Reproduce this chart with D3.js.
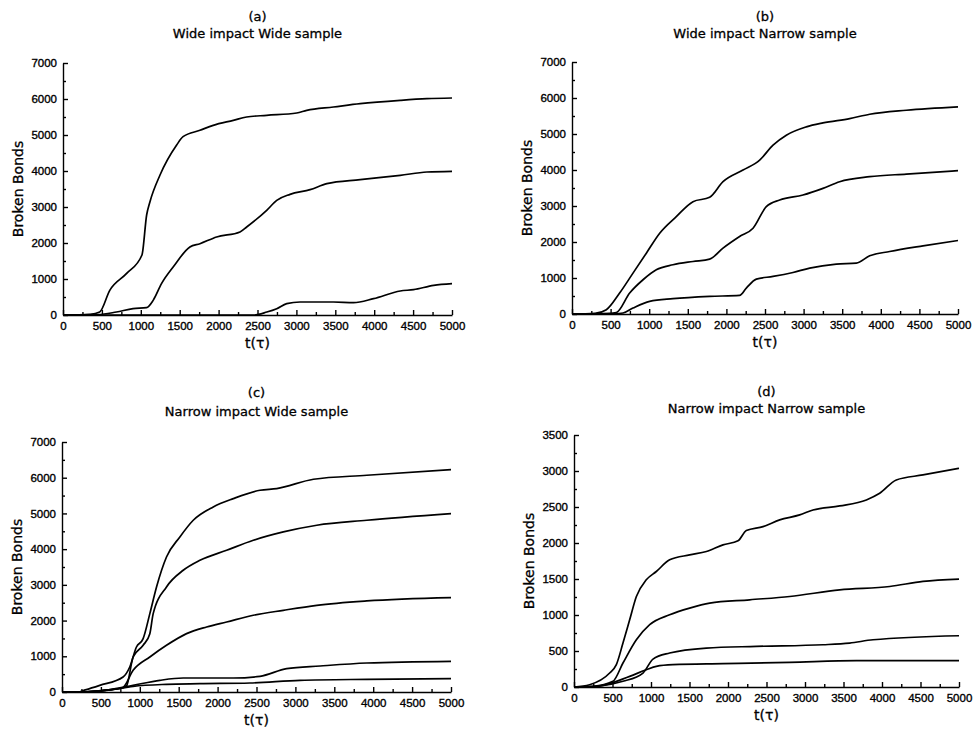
<!DOCTYPE html>
<html>
<head>
<meta charset="utf-8">
<script src="https://cdn.jsdelivr.net/npm/d3@7"></script>
<style>
  body { margin: 0; background: #fff; }
  svg { display: block; font-family: "DejaVu Sans", sans-serif; }
  .axis path, .axis line { stroke: #000; stroke-width: 1.4; }
  .axis text { font-size: 11.5px; fill: #000; stroke: #000; stroke-width: 0.35; }
  .curve { fill: none; stroke: #000; stroke-width: 1.7; stroke-linejoin: round; }
  .title { font-size: 13px; text-anchor: middle; stroke: #000; stroke-width: 0.3; }
  .label { font-size: 14px; text-anchor: middle; stroke: #000; stroke-width: 0.3; }
</style>
</head>
<body>
<svg id="viz" width="978" height="729"></svg>
<script>
// DATA - [t, broken bonds]
const xTicks = [0, 500, 1000, 1500, 2000, 2500, 3000, 3500, 4000, 4500, 5000];
const yTicks7000 = [0, 1000, 2000, 3000, 4000, 5000, 6000, 7000];
const yTicks3500 = [0, 500, 1000, 1500, 2000, 2500, 3000, 3500];

// (a) Wide impact Wide sample
const a1 = [[0,0],[350,20],[472,83],[601,685],[815,1148],[1015,1667],[1075,2778],[1118,3148],[1247,3889],[1461,4722],[1543,4954],[1760,5130],[1931,5268],[2189,5407],[2360,5500],[2618,5546],[3004,5611],[3133,5685],[3476,5777],[3820,5870],[4335,5963],[4678,6009],[5000,6028]];
const a2 = [[0,0],[450,10],[687,83],[901,176],[1073,204],[1159,407],[1266,870],[1416,1333],[1631,1889],[1760,1981],[1974,2167],[2275,2306],[2361,2444],[2618,2907],[2747,3185],[2918,3352],[3176,3481],[3391,3648],[3820,3759],[4335,3880],[4678,3972],[5000,3991]];
const a3 = [[0,0],[2450,0],[2620,83],[2747,176],[2876,315],[3047,361],[3476,361],[3734,343],[3991,454],[4335,667],[4506,704],[4764,824],[5000,870]];

// (b) Wide impact Narrow sample
const b1 = [[0,0],[300,20],[445,120],[617,582],[790,1136],[963,1690],[1136,2244],[1351,2705],[1567,3121],[1783,3241],[1956,3675],[2215,3998],[2431,4275],[2604,4691],[2776,4968],[3035,5199],[3251,5309],[3597,5429],[3856,5549],[4331,5660],[5000,5753]];
const b2 = [[0,0],[450,10],[574,40],[747,582],[920,951],[1092,1228],[1308,1367],[1567,1459],[1783,1524],[1956,1828],[2171,2151],[2345,2382],[2517,2982],[2690,3167],[2992,3306],[3251,3490],[3467,3675],[3856,3814],[4331,3887],[5000,3980]];
const b3 = [[0,0],[550,10],[661,28],[790,166],[1006,351],[1308,425],[1783,489],[2171,517],[2258,720],[2388,970],[2604,1043],[2863,1154],[3079,1274],[3424,1385],[3683,1413],[3856,1616],[4115,1736],[4547,1893],[5000,2041]];

// (c) Narrow impact Wide sample
const c1 = [[0,0],[200,0],[300,60],[485,187],[785,420],[871,700],[957,1260],[1043,1494],[1129,2194],[1215,2941],[1343,3781],[1515,4342],[1687,4809],[1944,5182],[2202,5415],[2545,5649],[2760,5695],[3232,5957],[3918,6069],[5000,6228]];
const c2 = [[0,0],[250,0],[500,40],[780,120],[828,160],[914,980],[1043,1307],[1129,1634],[1172,2194],[1343,2941],[1558,3408],[1773,3688],[2116,3968],[2459,4248],[2845,4482],[3275,4669],[3918,4809],[5000,4995]];
const c3 = [[0,0],[250,0],[600,60],[780,120],[914,607],[1129,980],[1343,1307],[1601,1634],[1858,1821],[2116,1961],[2459,2148],[2845,2288],[3275,2428],[3918,2549],[5000,2642]];
const c4 = [[0,0],[250,0],[600,60],[914,187],[1258,327],[1558,392],[2202,392],[2545,439],[2888,654],[3318,728],[3918,812],[5000,859]];
const c5 = [[0,0],[250,0],[600,50],[914,159],[1343,215],[1773,233],[2416,252],[3060,327],[3918,355],[5000,373]];

// (d) Narrow impact Narrow sample
const d1 = [[0,0],[203,32],[463,194],[550,310],[636,610],[723,934],[810,1257],[939,1489],[1069,1604],[1242,1766],[1502,1835],[1719,1882],[1935,1974],[2130,2030],[2238,2173],[2455,2228],[2671,2321],[2931,2390],[3104,2459],[3450,2515],[3797,2598],[3970,2690],[4186,2876],[4532,2945],[5000,3037]];
const d2 = [[0,0],[250,10],[506,79],[636,333],[810,656],[983,865],[1242,1003],[1502,1096],[1762,1165],[2281,1211],[2801,1257],[3450,1350],[4100,1396],[4532,1466],[5000,1498]];
const d3c = [[0,0],[300,10],[636,79],[896,194],[1026,388],[1242,472],[1719,541],[2368,564],[3234,587],[3580,610],[3883,656],[5000,712]];
const d4 = [[0,0],[300,10],[723,148],[939,240],[1069,287],[1285,310],[1935,324],[2801,342],[3667,365],[5000,365]];

const panels = [
  { tag: "(a)", name: "Wide impact Wide sample", x0: 63, x1: 452, y0: 315, y1: 63, t1: 16, t2: 33, ymax: 7000, yt: yTicks7000, series: [a1, a2, a3] },
  { tag: "(b)", name: "Wide impact Narrow sample", x0: 572, x1: 958, y0: 314, y1: 62, t1: 16, t2: 33, ymax: 7000, yt: yTicks7000, series: [b1, b2, b3] },
  { tag: "(c)", name: "Narrow impact Wide sample", x0: 62, x1: 451, y0: 692, y1: 442, t1: 392, t2: 411, ymax: 7000, yt: yTicks7000, series: [c1, c2, c3, c4, c5] },
  { tag: "(d)", name: "Narrow impact Narrow sample", x0: 574, x1: 959, y0: 687, y1: 435, t1: 391, t2: 408, ymax: 3500, yt: yTicks3500, series: [d1, d2, d3c, d4] }
];

var svg = d3.select("#viz");

panels.forEach(function (p) {
  var x = d3.scaleLinear().domain([0, 5000]).range([p.x0, p.x1]);
  var y = d3.scaleLinear().domain([0, p.ymax]).range([p.y0, p.y1]);
  var g = svg.append("g");
  var step = p.yt[1] - p.yt[0];

  // minor ticks
  g.append("g").attr("class", "axis")
    .attr("transform", "translate(0," + p.y0 + ")")
    .call(d3.axisBottom(x).tickValues(d3.range(250, 5000, 500)).tickSize(-3).tickFormat(""))
    .select(".domain").remove();
  g.append("g").attr("class", "axis")
    .attr("transform", "translate(" + p.x0 + ",0)")
    .call(d3.axisLeft(y).tickValues(d3.range(step / 2, p.ymax, step)).tickSize(-3).tickFormat(""))
    .select(".domain").remove();

  // main axes
  g.append("g").attr("class", "axis")
    .attr("transform", "translate(0," + p.y0 + ")")
    .call(d3.axisBottom(x).tickValues(xTicks).tickSizeInner(-5).tickSizeOuter(0).tickPadding(7).tickFormat(d3.format("d")));
  g.append("g").attr("class", "axis")
    .attr("transform", "translate(" + p.x0 + ",0)")
    .call(d3.axisLeft(y).tickValues(p.yt).tickSizeInner(-5).tickSizeOuter(0).tickPadding(6).tickFormat(d3.format("d")));

  var line = d3.line()
    .x(function (d) { return x(d[0]); })
    .y(function (d) { return y(d[1]); })
    .curve(d3.curveMonotoneX);

  g.selectAll(".curve")
    .data(p.series)
    .enter().append("path")
    .attr("class", "curve")
    .attr("d", line);

  var cx = (p.x0 + p.x1) / 2;
  g.append("text").attr("class", "title").attr("x", cx).attr("y", p.t1).attr("dy", "0.35em").text(p.tag);
  g.append("text").attr("class", "title").attr("x", cx).attr("y", p.t2).attr("dy", "0.35em").text(p.name);
  g.append("text").attr("class", "label").attr("x", cx).attr("y", p.y0 + 28).attr("dy", "0.35em").text("t(τ)");
  g.append("text").attr("class", "label")
    .attr("transform", "translate(" + (p.x0 - 45) + "," + ((p.y0 + p.y1) / 2) + ") rotate(-90)")
    .attr("dy", "0.35em").text("Broken Bonds");
});
</script>
</body>
</html>
